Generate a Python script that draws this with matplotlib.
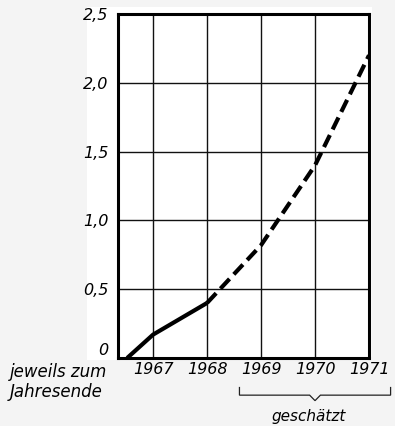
import matplotlib
matplotlib.use("Agg")
import matplotlib.pyplot as plt
from matplotlib.patches import Rectangle
from matplotlib.path import Path
from matplotlib.patches import PathPatch

# values at year end (solid = reported, dashed = estimated)
years_actual = [1966.52, 1967, 1968]
values_actual = [0.0, 0.17, 0.40]
years_estimate = [1968, 1969, 1970, 1971]
values_estimate = [0.40, 0.82, 1.40, 2.20]

x_ticks = [1967, 1968, 1969, 1970, 1971]
y_ticks = [0, 0.5, 1.0, 1.5, 2.0, 2.5]
y_labels = ["0", "0,5", "1,0", "1,5", "2,0", "2,5"]

plt.rcParams['font.family'] = ['Liberation Sans Narrow', 'DejaVu Sans']

W, H = 395, 426
fig = plt.figure(figsize=(W / 100, H / 100), dpi=100)
fig.patch.set_facecolor('#f4f4f4')

ax = fig.add_axes([118 / W, 1 - 358 / H, (369 - 118) / W, (358 - 14) / H])
ax.set_facecolor('white')
ax.set_xlim(1966.35, 1971)
ax.set_ylim(0, 2.5)

# paper area behind the chart
ax.add_patch(Rectangle((87 / W, 1 - 360 / H), (372 - 87) / W, (360 - 7) / H,
                       transform=fig.transFigure, facecolor='white',
                       edgecolor='none', zorder=-10, clip_on=False))

for x in x_ticks:
    ax.axvline(x, color='#111111', lw=1.0, zorder=1)
for y in y_ticks[1:-1]:
    ax.axhline(y, color='#111111', lw=1.0, zorder=1)

ax.plot(years_actual, values_actual, color='black', lw=3.0,
        solid_capstyle='butt', zorder=3)
ax.plot(years_estimate, values_estimate, color='black', lw=3.0,
        dashes=(3.2, 1.5), dash_capstyle='butt', zorder=3)

for s in ax.spines.values():
    s.set_linewidth(2.2)
    s.set_color('black')

ax.set_xticks(x_ticks)
ax.set_xticklabels([str(x) for x in x_ticks])
ax.set_yticks(y_ticks)
ax.set_yticklabels(y_labels)
ax.tick_params(length=0, labelsize=11.5)
ax.tick_params(axis='x', pad=3)
ax.tick_params(axis='y', pad=7)
for lab in ax.get_xticklabels() + ax.get_yticklabels():
    lab.set_fontstyle('italic')
# the zero sits just above the baseline
ax.get_yticklabels()[0].set_va('bottom')

fig.text(10 / W, 1 - 382 / H, "jeweils zum\nJahresende", fontsize=12,
         style='italic', ha='left', va='center', linespacing=1.1)

# brace under the estimated years
x0, x1, xm = 1968.6, 1971.4, 1970.0
yt, yb = -0.21, -0.27
verts = [(x0, yt), (x0, yb), (xm - 0.1, yb), (xm, yb - 0.04), (xm + 0.1, yb),
         (x1, yb), (x1, yt)]
ax.add_patch(PathPatch(Path(verts), fill=False, lw=0.9, color='#222222',
                       clip_on=False))
ax.text(xm - 0.12, -0.37, "geschätzt", fontsize=11, style='italic',
        ha='center', va='top', clip_on=False)

fig.savefig("out.png", dpi=100, facecolor=fig.get_facecolor())
